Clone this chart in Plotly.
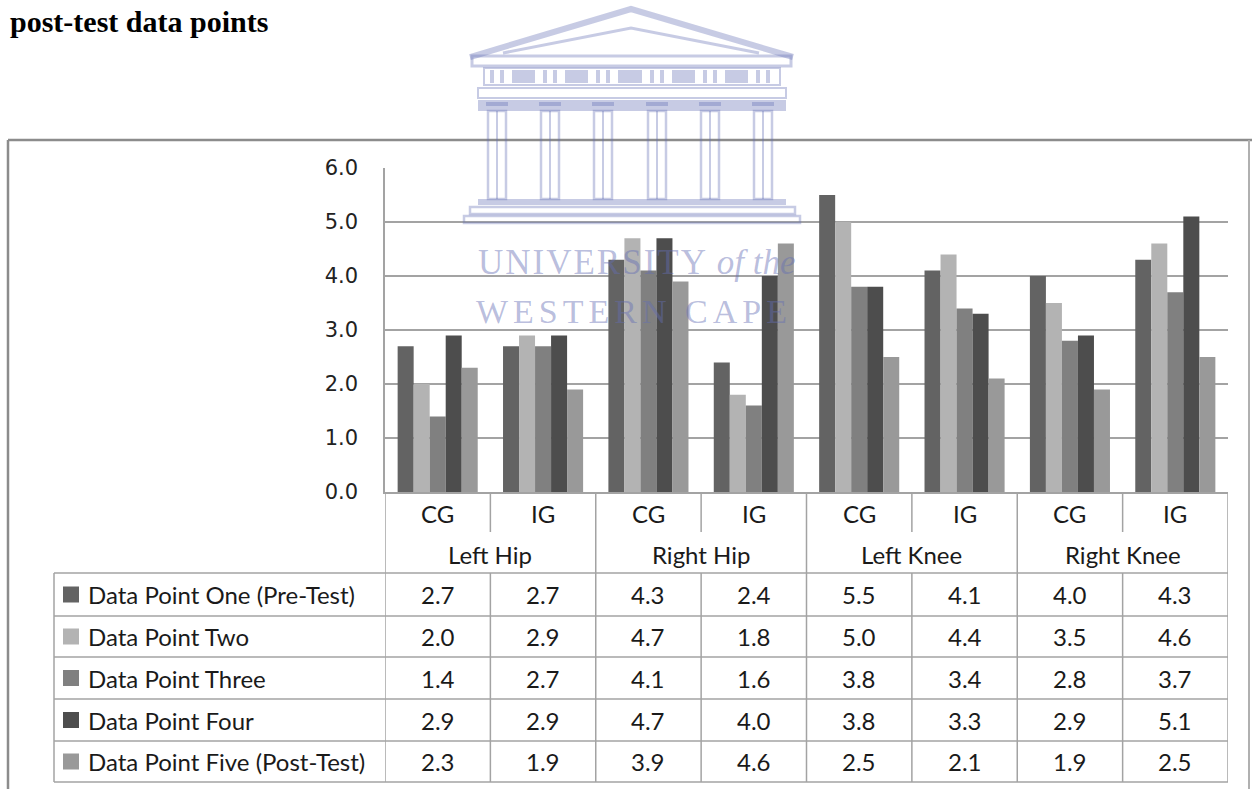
import plotly.graph_objects as go

# ---------------- data ----------------
groups = ["Left Hip", "Right Hip", "Left Knee", "Right Knee"]
subgroups = ["CG", "IG", "CG", "IG", "CG", "IG", "CG", "IG"]
series_names = ["Data Point One (Pre-Test)", "Data Point Two", "Data Point Three",
                "Data Point Four", "Data Point Five (Post-Test)"]
dp_one = [2.7, 2.7, 4.3, 2.4, 5.5, 4.1, 4.0, 4.3]
dp_two = [2.0, 2.9, 4.7, 1.8, 5.0, 4.4, 3.5, 4.6]
dp_three = [1.4, 2.7, 4.1, 1.6, 3.8, 3.4, 2.8, 3.7]
dp_four = [2.9, 2.9, 4.7, 4.0, 3.8, 3.3, 2.9, 5.1]
dp_five = [2.3, 1.9, 3.9, 4.6, 2.5, 2.1, 1.9, 2.5]
series_values = [dp_one, dp_two, dp_three, dp_four, dp_five]
y_ticks = [0, 1, 2, 3, 4, 5, 6]
title_text = "post-test data points"

# ---------------- styles ----------------
colors = ["#636363", "#b3b3b3", "#808080", "#4d4d4d", "#999999"]
W, H = 1257, 789
L, R, T, B = 385, 1228, 168, 492
GRID = "#a3a3a3"
TABLE_FONT = "Lato"
TFS = 24
TXT = "#1a1a1a"
WM = "rgba(100,110,180,0.36)"
WM_TEXT = "rgba(100,110,180,0.45)"


def px(x):
    return (x - L) / (R - L)


def py(y):
    return (B - y) / (B - T)


xs = list(range(len(subgroups)))
fig = go.Figure()
for name, vals, col in zip(series_names, series_values, colors):
    fig.add_trace(go.Bar(x=xs, y=vals, name=name, marker_color=col,
                         marker_line_width=0, showlegend=False))

shapes = []
ann = []


def label(x, y, text, xref="paper", xanchor="center", size=TFS, family=TABLE_FONT,
          color=TXT):
    ann.append(dict(x=x, y=y, xref=xref, yref="paper", text=text, showarrow=False,
                    xanchor=xanchor, yanchor="middle",
                    font=dict(family=family, size=size, color=color)))


# ---- data table lines ----
def hline(y, x0, x1=1.0, color=GRID, width=1.5):
    shapes.append(dict(type="line", xref="paper", yref="paper", x0=x0, x1=x1,
                       y0=py(y), y1=py(y), line=dict(color=color, width=width)))


row_lines = [573, 616, 657, 699, 741, 782]
for y in row_lines:
    hline(y, px(54))
shapes.append(dict(type="line", xref="paper", yref="paper", x0=px(54), x1=px(54),
                   y0=py(573), y1=py(782), line=dict(color=GRID, width=1.5)))
for k in range(len(groups) + 1):
    xb = -0.5 + 2 * k
    shapes.append(dict(type="line", xref="x", yref="paper", x0=xb, x1=xb,
                       y0=py(492), y1=py(782), line=dict(color=GRID, width=1.5)))
for k in range(len(groups)):
    xb = 0.5 + 2 * k
    shapes.append(dict(type="line", xref="x", yref="paper", x0=xb, x1=xb,
                       y0=py(492), y1=py(532), line=dict(color=GRID, width=1.5)))
    shapes.append(dict(type="line", xref="x", yref="paper", x0=xb, x1=xb,
                       y0=py(573), y1=py(782), line=dict(color=GRID, width=1.5)))

# category labels
for i, s in enumerate(subgroups):
    label(i, py(513), s, xref="x")
for k, g in enumerate(groups):
    label(2 * k + 0.5, py(554), g, xref="x")

# rows
for r, (name, vals, col) in enumerate(zip(series_names, series_values, colors)):
    yc = (row_lines[r] + row_lines[r + 1]) / 2
    shapes.append(dict(type="rect", xref="paper", yref="paper", x0=px(63), x1=px(79),
                       y0=py(yc + 8), y1=py(yc - 8), fillcolor=col, line_width=0))
    label(px(86), py(yc), name, xanchor="left")
    for i, v in enumerate(vals):
        label(i, py(yc), f"{v:.1f}", xref="x")

# ---- chart border ----
BORDER = "#8c8c8c"
shapes.append(dict(type="line", xref="paper", yref="paper", x0=px(8), x1=px(1252),
                   y0=py(140), y1=py(140), line=dict(color=BORDER, width=2.5)))
shapes.append(dict(type="line", xref="paper", yref="paper", x0=px(8), x1=px(8),
                   y0=py(140), y1=py(795), line=dict(color=BORDER, width=2.5)))
shapes.append(dict(type="line", xref="paper", yref="paper", x0=px(1249), x1=px(1249),
                   y0=py(140), y1=py(795), line=dict(color="#b0b0b0", width=2)))

# ---- title ----
label(px(8), py(21), "<b>" + title_text + "</b>", xanchor="left", size=30,
      family="Liberation Serif", color="#000")


# ---- watermark (university crest) ----
def wpath(d, width=3):
    shapes.append(dict(type="path", xref="paper", yref="paper", path=d, layer="above",
                       line=dict(color=WM, width=width)))


def P(x, y):
    return f"{px(x):.5f},{py(y):.5f}"


def wrect(x0, y0, x1, y1, fill=False, width=2):
    s = dict(type="rect", xref="paper", yref="paper", x0=px(x0), x1=px(x1),
             y0=py(y1), y1=py(y0), layer="above")
    if fill:
        s["fillcolor"] = WM
        s["line"] = dict(width=0)
    else:
        s["line"] = dict(color=WM, width=width)
    shapes.append(s)


wpath(f"M{P(470,57)} L{P(631,9)} L{P(793,57)}", width=6)
wpath(f"M{P(503,53)} L{P(631,28)} L{P(759,53)}", width=3)
wrect(472, 56, 791, 66, width=3)
wrect(484, 68, 780, 85, width=2)
cols = [497, 550, 603, 657, 710, 763]
for c in cols:
    wrect(c - 7, 70, c - 3, 83, fill=True)
    wrect(c + 3, 70, c + 7, 83, fill=True)
for a, b in zip(cols[:-1], cols[1:]):
    wrect(a + 15, 70, b - 15, 83, fill=True)
wrect(478, 88, 786, 98, width=2)
wrect(478, 100, 786, 111, fill=True)
for c in cols:
    wrect(c - 11, 102, c + 11, 106, fill=True)
    wrect(c - 9, 111, c + 9, 199, width=2.5)
    wpath(f"M{P(c,111)} L{P(c,199)}", width=2)
wrect(478, 199, 786, 205, fill=True)
wrect(470, 207, 795, 214, width=2.5)
wrect(464, 216, 800, 223, width=2.5)

label(px(636), py(262),
      "<span style='letter-spacing:2px'>UNIVERSITY</span> <i>of the</i>",
      size=35, family="Liberation Serif", color=WM_TEXT)
label(px(634), py(311), "<span style='letter-spacing:5px'>WESTERN CAPE</span>",
      size=34, family="Liberation Serif", color=WM_TEXT)

fig.update_layout(
    width=W, height=H, autosize=False,
    margin=dict(l=L, r=W - R, t=T, b=H - B, pad=0),
    paper_bgcolor="white", plot_bgcolor="white",
    barmode="group", bargap=0.24, bargroupgap=0,
    shapes=shapes, annotations=ann,
    xaxis=dict(range=[-0.5, 7.5], showticklabels=False, showgrid=False, zeroline=False,
               showline=True, linecolor=GRID, linewidth=1.5, fixedrange=True),
    yaxis=dict(range=[0, 6], tickvals=y_ticks, ticktext=[f"{v:.1f}" for v in y_ticks],
               showgrid=True, gridcolor=GRID, gridwidth=1.5, zeroline=False,
               showline=True, linecolor=GRID, linewidth=1.5, ticks="",
               ticklabelstandoff=21, fixedrange=True,
               tickfont=dict(family="DejaVu Sans", size=21, color="#222")),
)

fig.write_html("out.html", config={"displayModeBar": False},
               post_script="document.body.style.margin='0';")
